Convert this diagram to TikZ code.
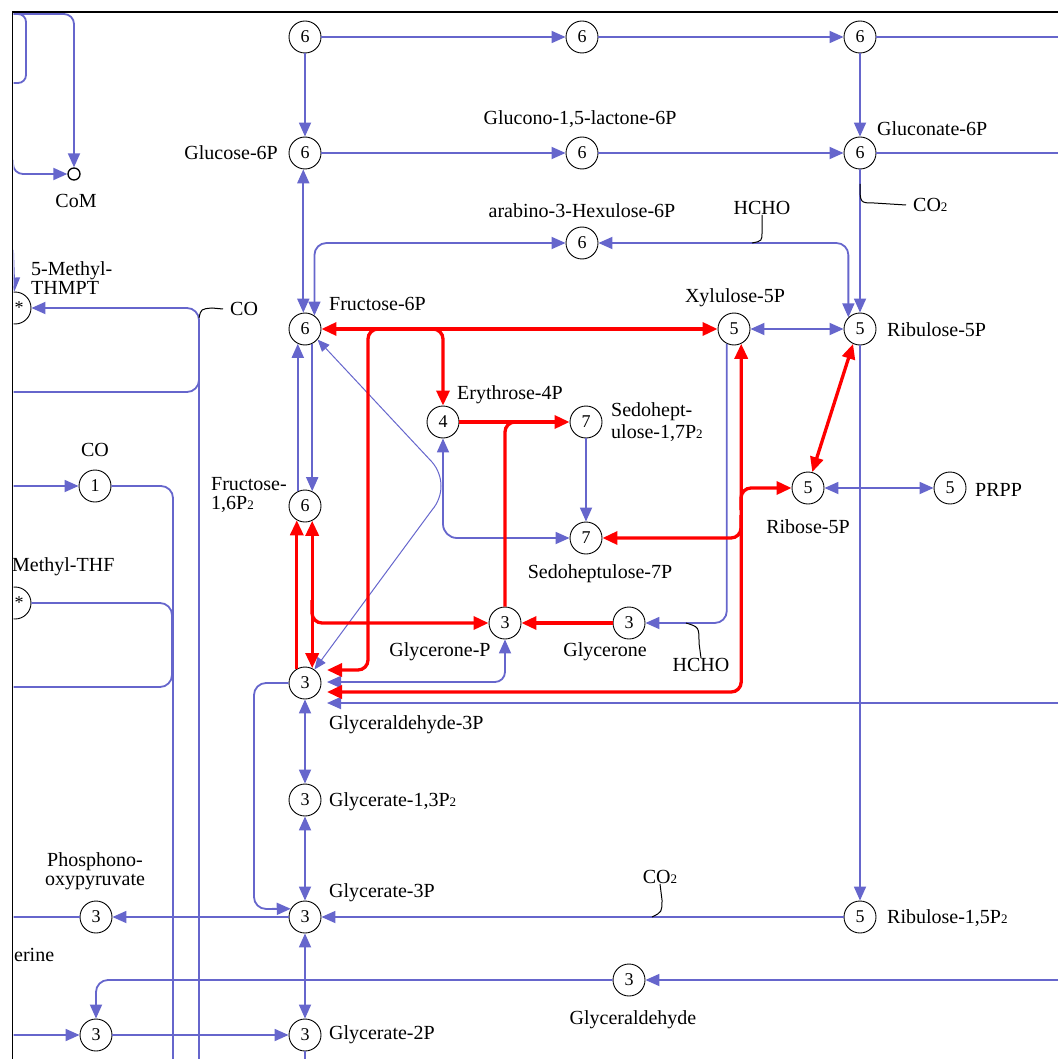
\documentclass[tikz,border=0pt]{standalone}
\usepackage{fontspec}
\setmainfont{Liberation Serif}
\usetikzlibrary{arrows.meta,calc}
\definecolor{kblue}{RGB}{102,102,204}
\definecolor{kred}{RGB}{255,0,0}
\newcommand\lfont{\fontsize{20}{17}\selectfont}
\newcommand\cfont{\fontsize{18}{18}\selectfont}
\newcommand\subtwo{{\fontsize{13}{13}\selectfont 2}}
\begin{document}
\begin{tikzpicture}[x=1pt,y=-1pt,
  cpd/.style={circle,draw=black,line width=0.9pt,minimum size=32pt,inner sep=0pt,font=\cfont},
  bl/.style={draw=kblue,line width=1.8pt},
  bthin/.style={draw=kblue,line width=1pt},
  rd/.style={draw=kred,line width=3.3pt},
  bto/.style={bl,-{Triangle[length=14pt,width=12pt]}},
  bboth/.style={bl,{Triangle[length=14pt,width=12pt]}-{Triangle[length=14pt,width=12pt]}},
  rto/.style={rd,-{Triangle[length=15pt,width=13pt]}},
  rboth/.style={rd,{Triangle[length=15pt,width=13pt]}-{Triangle[length=15pt,width=13pt]}},
  hook/.style={draw=black,line width=1pt},
  lab/.style={font=\lfont,inner sep=0pt}]
\useasboundingbox (0,0) rectangle (1058,1059);
\begin{scope}
\clip (13.5,13) rectangle (1058,1059);
% compounds
\node[cpd] (A1) at (305,37) {6};
\node[cpd] (A2) at (582,37) {6};
\node[cpd] (A3) at (860,37) {6};
\node[cpd] (G6P) at (305,153) {6};
\node[cpd] (GL) at (582,153) {6};
\node[cpd] (GN) at (860,153) {6};
\node[cpd] (H6P) at (582,243) {6};
\node[cpd] (F6P) at (305,329) {6};
\node[cpd] (X5P) at (734,329) {5};
\node[cpd] (RU5P) at (860,329) {5};
\node[cpd] (E4P) at (443,422) {4};
\node[cpd] (S17) at (586,422) {7};
\node[cpd] (F16) at (305,506) {6};
\node[cpd] (R5P) at (808,488) {5};
\node[cpd] (PRPP) at (950,488) {5};
\node[cpd] (S7P) at (586,538) {7};
\node[cpd] (GP) at (505,623) {3};
\node[cpd] (GLY) at (629,623) {3};
\node[cpd] (GA3P) at (305,683) {3};
\node[cpd] (G13) at (305,800) {3};
\node[cpd] (G3P) at (305,917) {3};
\node[cpd] (R15) at (860,917) {5};
\node[cpd] (PHO) at (96,917) {3};
\node[cpd] (GAL) at (629,980) {3};
\node[cpd] (B3) at (96,1035) {3};
\node[cpd] (G2P) at (305,1035) {3};
\node[cpd] (CO1) at (95,486) {1};
\node[cpd] (ST1) at (15,308) {\hspace{8pt}*};
\node[cpd] (ST2) at (15,603) {\hspace{8pt}*};
\node[circle,draw=black,line width=1.3pt,minimum size=12pt,inner sep=0pt] (COM) at (74,174) {};
% labels
\node[lab,anchor=east] (lG6P) at (278,153) {Glucose-6P};
\node[lab] (lGL) at (580,119) {Glucono-1,5-lactone-6P};
\node[lab,anchor=west] (lGN) at (877,129) {Gluconate-6P};
\node[lab] (lH6P) at (582,211) {arabino-3-Hexulose-6P};
\node[lab] (hU) at (762,208) {HCHO};
\node[lab,anchor=west] (cU) at (913,205) {CO\subtwo};
\node[lab,anchor=west] (lF6P) at (329,304) {Fructose-6P};
\node[lab] (lX5P) at (735,298) {Xylulose-5P};
\node[lab,anchor=west] (lRU5P) at (887,330) {Ribulose-5P};
\node[lab,anchor=west] (lE4P) at (457,395) {Erythrose-4P};
\node[lab,anchor=west,align=left] (lS17) at (611,422) {Sedohept-\\[3pt]ulose-1,7P\subtwo};
\node[lab,anchor=west,align=left] (lF16) at (211,495) {Fructose-\\[2pt]1,6P\subtwo};
\node[lab] (lR5P) at (808,527) {Ribose-5P};
\node[lab,anchor=west] (lPRPP) at (975,490) {PRPP};
\node[lab] (lS7P) at (600,574) {Sedoheptulose-7P};
\node[lab] (lGP) at (440,652) {Glycerone-P};
\node[lab] (lGLY) at (605,652) {Glycerone};
\node[lab] (hL) at (701,665) {HCHO};
\node[lab,anchor=west] (lGA3P) at (329,725) {Glyceraldehyde-3P};
\node[lab,anchor=west] (lG13) at (329,802) {Glycerate-1,3P\subtwo};
\node[lab,anchor=west] (lG3P) at (329,893) {Glycerate-3P};
\node[lab,anchor=west] (lR15) at (887,918) {Ribulose-1,5P\subtwo};
\node[lab] (cL) at (660,877) {CO\subtwo};
\node[lab,align=center] (lPHO) at (95,871) {Phosphono-\\[2pt]oxypyruvate};
\node[lab,anchor=west] (lSer) at (14,955) {erine};
\node[lab] (lGAL) at (633,1020) {Glyceraldehyde};
\node[lab,anchor=west] (lG2P) at (329,1035) {Glycerate-2P};
\node[lab] (lCO1) at (95,450) {CO};
\node[lab,anchor=west] (lST2) at (12,567) {Methyl-THF};
\node[lab,anchor=west,align=left] (lST1) at (31,278) {5-Methyl-\\THMPT};
\node[lab,anchor=west] (cS) at (230,309) {CO};
\node[lab] (lCoM) at (76,201) {CoM};
% blue connectors
\draw[bto] (A1) -- (A2);
\draw[bto] (A2) -- (A3);
\draw[bl] (A3) -- (1058,37);
\draw[bto] (A1) -- (G6P);
\draw[bto] (A3) -- (GN);
\draw[bto] (G6P) -- (GL);
\draw[bto] (GL) -- (GN);
\draw[bl] (GN) -- (1058,153);
\draw[bboth] (G6P.-96) -- (F6P.96);
\draw[bboth,rounded corners=12] (F6P.55) |- (H6P);
\draw[bboth,rounded corners=12] (H6P) -| (RU5P.135);
\draw[bto] (GN) -- (RU5P);
\draw[bto] (RU5P) -- (R15);
\draw[bboth] (X5P) -- (RU5P);
\draw[bboth] (R5P) -- (PRPP);
\draw[bto] (S17) -- (S7P);
\draw[bboth,rounded corners=14] (E4P) |- (S7P);
\draw[bto,rounded corners=12] (X5P.-116) |- (GLY);
\draw[bboth,rounded corners=10] (GP) |- ($(GA3P)+(22,-1)$);
\draw[bto] (1058,703) -- ($(GA3P)+(22,20)$);
\draw[bto,rounded corners=12] (GA3P) -| (254,909) -- (G3P.150);
\draw[bto] (F6P.-64) -- (F16.64);
\draw[bto] (F16.116) -- (F6P.-116);
\draw[bboth] (GA3P) -- (G13);
\draw[bboth] (G13) -- (G3P);
\draw[bboth] (G3P) -- (G2P);
\draw[bto] (G3P) -- (PHO);
\draw[bl] (PHO) -- (13,917);
\draw[bto] (R15) -- (G3P);
\draw[bto] (1058,980) -- (GAL);
\draw[bto,rounded corners=12] (GAL) -| (B3);
\draw[bto] (13,1035) -- (B3);
\draw[bto] (B3) -- (G2P);
\draw[bl] (G2P) -- (305,1059);
\draw[bto] (13,486) -- (CO1);
\draw[bl,rounded corners=12] (CO1) -| (173,1059);
\draw[bl,rounded corners=12] (ST2) -- (172,603) -- (172,687) -- (13,687);
\draw[bto,rounded corners=12] (199,1059) |- (ST1);
\draw[bl,rounded corners=12] (13,392) -- (199,392) -- (199,370);
\draw[bto] (13,250) -- (ST1);
\draw[bto,rounded corners=10] (13,14) -| (COM);
\draw[bl,rounded corners=8] (13,14) -- (26,14) -- (26,83) -- (13,83);
\draw[bto,rounded corners=10] (13,160) |- (COM);
\draw[bthin,{Triangle[length=12pt,width=10pt]}-{Triangle[length=12pt,width=10pt]}]
  (F6P.-40) -- (432,462) .. controls (444,476) and (444,496) .. (432,510) -- (GA3P.55);
% red connectors
\draw[rboth] (F6P) -- (X5P);
\draw[rto,rounded corners=10] (425,329) -| (E4P);
\draw[rto,rounded corners=10] (385,329) -| (368,670) -- ($(GA3P)+(22,-13)$);
\draw[rto] (E4P) -- (S17);
\draw[rd,rounded corners=10] (GP) |- (525,422);
\draw[rto] (GLY) -- (GP);
\draw[rto] (GA3P.120) -- (F16.-120);
\draw[rboth] (F16.-64) -- (GA3P.64);
\draw[rto,rounded corners=10] (312,600) |- (GP);
\draw[rboth,rounded corners=10] ($(GA3P)+(22,9)$) -| (X5P.-64);
\draw[rto,rounded corners=10] (741,510) |- (R5P);
\draw[rto,rounded corners=10] (741,515) |- (S7P);
\draw[rboth] (RU5P.-115) -- (R5P.75);
% hooks
\draw[hook] (hU.south) -- (762,232) .. controls (762,241) .. (752,243);
\draw[hook] (860,184) .. controls (860,203) .. (874,203) -- ([xshift=-7pt]cU.west);
\draw[hook] (hL.north) -- (699,643) .. controls (699,627) .. (686,623);
\draw[hook] (cL.south) -- (662,900) .. controls (662,912) .. (652,917);
\draw[hook] (199,318) .. controls (201,309) .. (212,308) -- ([xshift=-7pt]cS.west);
\end{scope}
\draw[black,line width=1.5pt] (12.5,1059) -- (12.5,12) -- (1058,12);
\end{tikzpicture}
\end{document}
